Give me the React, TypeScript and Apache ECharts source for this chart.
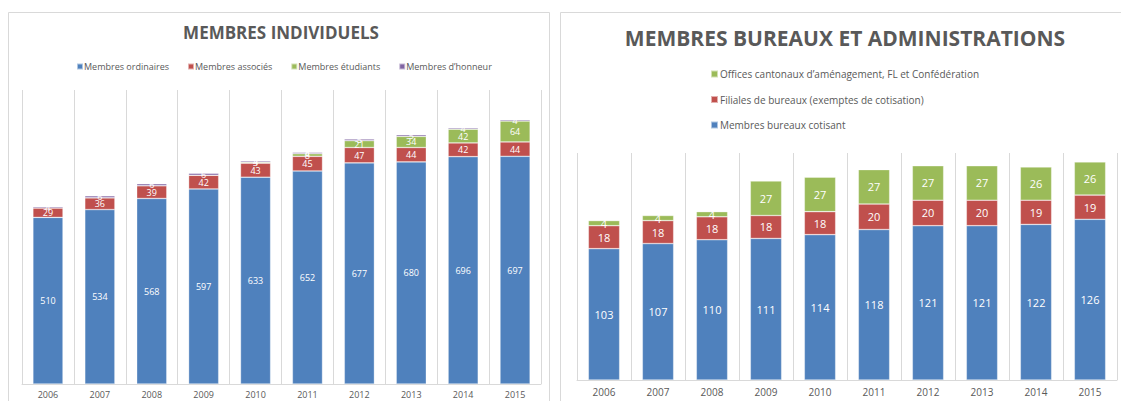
import React, { useEffect, useRef } from "react";
import * as echarts from "echarts";

const years = ["2006", "2007", "2008", "2009", "2010", "2011", "2012", "2013", "2014", "2015"];

// Membres individuels
const ordinaires = [510, 534, 568, 597, 633, 652, 677, 680, 696, 697];
const associes = [29, 36, 39, 42, 43, 45, 47, 44, 42, 44];
const etudiants = [0, 0, 0, 0, 3, 8, 21, 34, 42, 64];
const honneur = [4, 6, 6, 6, 4, 4, 5, 5, 4, 4];

// Membres bureaux et administrations
const cotisant = [103, 107, 110, 111, 114, 118, 121, 121, 122, 126];
const filiales = [18, 18, 18, 18, 18, 20, 20, 20, 19, 19];
const offices = [4, 4, 4, 27, 27, 27, 27, 27, 26, 26];

const BLUE = "#4F81BD";
const RED = "#C0504D";
const GREEN = "#9BBB59";
const PURPLE = "#8064A2";
const GRAY = "#595959";
const FONT = "'Open Sans', 'Noto Sans', sans-serif";

export default function App() {
  const ref = useRef<HTMLDivElement>(null);
  useEffect(() => {
    document.body.style.margin = "0";
    const chart = echarts.init(ref.current!, null, { renderer: "svg" });
    const lbl = (size: number) => ({
      show: true,
      position: "inside" as const,
      color: "#ffffff",
      fontSize: size,
      fontFamily: FONT,
      formatter: (p: any) => (p.value ? String(p.value) : ""),
    });
    const itemStyle = (c: string) => ({ color: c, borderColor: "rgba(255,255,255,0.55)", borderWidth: 0.6 });
    const xAxisBase = (gi: number, fs: number, margin: number) => ({
      type: "category" as const,
      gridIndex: gi,
      data: years,
      axisTick: { show: false },
      axisLine: { show: true, lineStyle: { color: "#d9d9d9", width: 1 } },
      splitLine: { show: true, lineStyle: { color: "#d9d9d9", width: 1 } },
      axisLabel: { color: GRAY, fontSize: fs, fontFamily: FONT, margin },
    });
    const mk = (name: string, data: number[], color: string, gi: number, stack: string, fs: number) => ({
      name,
      type: "bar" as const,
      xAxisIndex: gi,
      yAxisIndex: gi,
      stack,
      data,
      barCategoryGap: "42%",
      itemStyle: itemStyle(color),
      label: lbl(fs),
    });
    chart.setOption({
      animation: false,
      graphic: [
        { type: "rect", shape: { x: 8.5, y: 12.5, width: 541, height: 400 }, style: { fill: "none", stroke: "#d9d9d9", lineWidth: 1 }, silent: true },
        { type: "rect", shape: { x: 560.5, y: 12.5, width: 570, height: 400 }, style: { fill: "none", stroke: "#d9d9d9", lineWidth: 1 }, silent: true },
        { type: "text", x: 281, y: 32, style: { text: "MEMBRES INDIVIDUELS", fill: GRAY, font: `bold 17px ${FONT}`, textAlign: "center", textVerticalAlign: "middle" } },
        { type: "text", x: 845, y: 38, style: { text: "MEMBRES BUREAUX ET ADMINISTRATIONS", fill: GRAY, font: `bold 21px ${FONT}`, textAlign: "center", textVerticalAlign: "middle" } },
      ],
      legend: [
        {
          left: 76,
          top: 62,
          padding: 0,
          itemWidth: 6,
          itemHeight: 6,
          itemGap: 18,
          icon: "rect",
          textStyle: { color: GRAY, fontSize: 9, fontFamily: FONT, padding: [0, 0, 0, -4] },
          data: ["Membres ordinaires", "Membres associés", "Membres étudiants", "Membres d’honneur"],
        },
        {
          orient: "vertical",
          left: 710,
          top: 69,
          padding: 0,
          itemWidth: 7,
          itemHeight: 7,
          itemGap: 15.5,
          icon: "rect",
          textStyle: { color: GRAY, fontSize: 10, fontFamily: FONT, padding: [0, 0, 0, -3] },
          data: [
            "Offices cantonaux d’aménagement, FL et Confédération",
            "Filiales de bureaux (exemptes de cotisation)",
            "Membres bureaux cotisant",
          ],
        },
      ],
      grid: [
        { left: 22, top: 90, width: 519, height: 294 },
        { left: 577, top: 153, width: 540, height: 227 },
      ],
      xAxis: [xAxisBase(0, 9, 6), xAxisBase(1, 10, 7)],
      yAxis: [
        { type: "value", gridIndex: 0, min: 0, max: 900, show: false, splitLine: { show: false } },
        { type: "value", gridIndex: 1, min: 0, max: 178, show: false, splitLine: { show: false } },
      ],
      series: [
        mk("Membres ordinaires", ordinaires, BLUE, 0, "a", 9),
        mk("Membres associés", associes, RED, 0, "a", 9),
        mk("Membres étudiants", etudiants, GREEN, 0, "a", 9),
        mk("Membres d’honneur", honneur, PURPLE, 0, "a", 9),
        mk("Membres bureaux cotisant", cotisant, BLUE, 1, "b", 11),
        mk("Filiales de bureaux (exemptes de cotisation)", filiales, RED, 1, "b", 11),
        mk("Offices cantonaux d’aménagement, FL et Confédération", offices, GREEN, 1, "b", 11),
      ],
    });
    return () => chart.dispose();
  }, []);
  return <div ref={ref} style={{ width: 1121, height: 401 }} />;
}
